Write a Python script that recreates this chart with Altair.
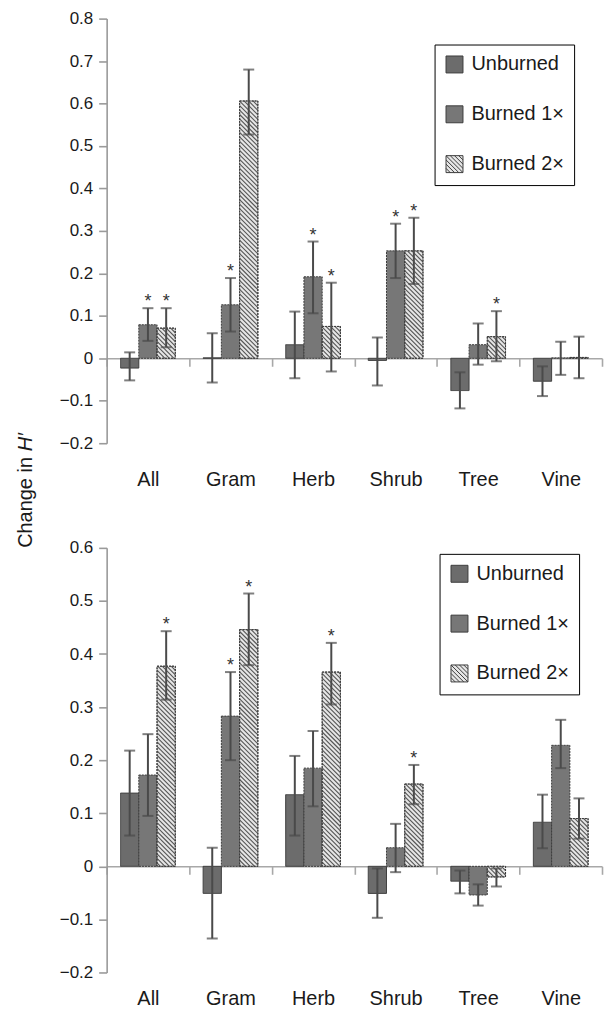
import json
import math
import altair as alt
import pandas as pd

FONT = "Liberation Sans"

categories = ["All", "Gram", "Herb", "Shrub", "Tree", "Vine"]
treatments = ["Unburned", "Burned 1×", "Burned 2×"]

# ---- top panel ----
top_unburned = [-0.023, 0.001, 0.032, -0.005, -0.076, -0.054]
top_unburned_lo = [-0.052, -0.057, -0.047, -0.064, -0.118, -0.089]
top_unburned_hi = [0.014, 0.059, 0.110, 0.049, -0.033, -0.019]
top_burned1 = [0.079, 0.126, 0.192, 0.253, 0.032, 0.001]
top_burned1_lo = [0.041, 0.063, 0.106, 0.189, -0.015, -0.039]
top_burned1_hi = [0.118, 0.189, 0.275, 0.317, 0.082, 0.039]
top_burned2 = [0.071, 0.606, 0.075, 0.253, 0.051, 0.002]
top_burned2_lo = [0.026, 0.527, -0.031, 0.175, -0.007, -0.047]
top_burned2_hi = [0.118, 0.680, 0.178, 0.331, 0.111, 0.051]
top_star_unburned = [0, 0, 0, 0, 0, 0]
top_star_burned1 = [1, 1, 1, 1, 0, 0]
top_star_burned2 = [1, 0, 1, 1, 1, 0]
top_ticks = [-0.2, -0.1, 0.0, 0.1, 0.2, 0.3, 0.4, 0.5, 0.6, 0.7, 0.8]

# ---- bottom panel ----
bot_unburned = [0.138, -0.051, 0.135, -0.051, -0.028, 0.083]
bot_unburned_lo = [0.058, -0.136, 0.058, -0.097, -0.051, 0.034]
bot_unburned_hi = [0.218, 0.035, 0.208, -0.004, -0.008, 0.135]
bot_burned1 = [0.172, 0.283, 0.185, 0.035, -0.054, 0.228]
bot_burned1_lo = [0.095, 0.200, 0.113, -0.011, -0.074, 0.185]
bot_burned1_hi = [0.249, 0.366, 0.255, 0.080, -0.034, 0.276]
bot_burned2 = [0.377, 0.446, 0.366, 0.155, -0.020, 0.090]
bot_burned2_lo = [0.314, 0.379, 0.305, 0.117, -0.038, 0.052]
bot_burned2_hi = [0.443, 0.514, 0.421, 0.191, -0.004, 0.128]
bot_star_unburned = [0, 0, 0, 0, 0, 0]
bot_star_burned1 = [0, 1, 0, 0, 0, 0]
bot_star_burned2 = [1, 1, 1, 1, 0, 0]
bot_ticks = [-0.2, -0.1, 0.0, 0.1, 0.2, 0.3, 0.4, 0.5, 0.6]

W = 497
H = 426
BW = 0.221  # bar width, in category units
FILLS = ["#6c6c6c", "#777777", "#e6e6e6"]
DASHES = [[1, 0], [2, 1], [2, 1]]
BAR_STROKE = "#3c3c3c"
ERR = "#4a4a4a"
HATCH_PATH = ("M-1,-1H1V1H-1Z M-1,0.5L-0.5,1 M-1,0L0,1 M-1,-0.5L0.5,1 "
              "M-1,-1L1,1 M-0.5,-1L1,0.5 M0,-1L1,0 M0.5,-1L1,-0.5")


def build_frame(vals, los, his, stars):
    rows = []
    for ti, t in enumerate(treatments):
        for ci, c in enumerate(categories):
            xc = ci + 0.5 + (ti - 1) * BW
            rows.append(dict(cat=c, treatment=t, ti=ti, v=vals[ti][ci],
                             lo=los[ti][ci], hi=his[ti][ci], star=stars[ti][ci],
                             xc=xc, xl=xc - BW / 2, xr=xc + BW / 2, base=0.0))
    return pd.DataFrame(rows)


def hatch_frame(df, ydom):
    ppx = W / len(categories)
    ppy = H / (ydom[1] - ydom[0])
    s = 4.5
    segs = []
    for r in df[df.ti == 2].itertuples():
        Xl, Xr = r.xl * ppx, r.xr * ppx
        Yt, Yb = -max(r.v, 0) * ppy, -min(r.v, 0) * ppy
        if Yb - Yt < 0.5:
            continue
        k0 = math.ceil((Yt - Xr) / s)
        k1 = math.floor((Yb - Xl) / s)
        for k in range(k0, k1 + 1):
            c = k * s
            X0 = max(Xl, Yt - c)
            X1 = min(Xr, Yb - c)
            if X1 - X0 > 0.3:
                segs.append(dict(hx1=X0 / ppx, hx2=X1 / ppx,
                                 hy1=-(X0 + c) / ppy, hy2=-(X1 + c) / ppy))
    return pd.DataFrame(segs)


def panel(df, ydom, yticks, label_pad, legend_x, legend_y, with_title=False):
    xs = alt.Scale(domain=[0, len(categories)], nice=False, zero=False)
    ys = alt.Scale(domain=ydom, nice=False, zero=False)
    fill_s = alt.Scale(domain=treatments, range=FILLS)
    stroke_s = alt.Scale(domain=treatments, range=[BAR_STROKE] * 3)
    shape_s = alt.Scale(domain=treatments, range=["square", "square", HATCH_PATH])
    zero_off = -H * (0 - ydom[0]) / (ydom[1] - ydom[0])

    label_axis = alt.Axis(
        orient="bottom",
        values=[i + 0.5 for i in range(len(categories))],
        labelExpr=json.dumps(categories) + "[floor(datum.value)]",
        domain=False, ticks=False, tickSize=0, grid=False, title=None,
        labelPadding=label_pad, labelFont=FONT, labelFontSize=20,
        labelColor="#1a1a1a", labelBaseline="top")
    zero_axis = alt.Axis(
        orient="bottom",
        values=list(range(len(categories) + 1)), labels=False, grid=False,
        title=None, domain=True, ticks=True, tickSize=8, offset=zero_off,
        domainColor="#a8a8a8", tickColor="#a8a8a8", domainWidth=1.6,
        tickWidth=1.6)
    y_axis = alt.Axis(
        orient="left",
        values=yticks, grid=False, title=None,
        labelExpr="abs(datum.value) < 1e-9 ? '0' : format(datum.value, '.1f')",
        domainColor="#9a9a9a", domainWidth=1.6, tickColor="#9a9a9a",
        tickWidth=1.6, tickSize=8, labelPadding=6, labelFont=FONT,
        labelFontSize=17, labelColor="#1a1a1a")

    def Y(field):
        return alt.Y(field, scale=ys, axis=y_axis)

    base = alt.Chart(df)
    bar_layers = []
    for ti in range(len(treatments)):
        bar_layers.append(
            base.transform_filter(alt.datum.ti == ti).mark_rect(
                fill=FILLS[ti], stroke=BAR_STROKE, strokeWidth=1,
                strokeDash=DASHES[ti]).encode(
                x=alt.X("xl:Q", scale=xs,
                        axis=label_axis if ti == 0 else None),
                x2="xr", y=Y("v:Q"), y2="base"))
    hatch = alt.Chart(hatch_frame(df, ydom)).mark_rule(
        color="#555555", strokeWidth=1.1).encode(
        x=alt.X("hx1:Q", scale=xs, axis=None), x2="hx2",
        y=Y("hy1:Q"), y2="hy2")
    outline = base.transform_filter(alt.datum.ti == 2).mark_rect(
        stroke=BAR_STROKE, strokeWidth=1, fillOpacity=0,
        strokeDash=DASHES[2]).encode(
        x=alt.X("xl:Q", scale=xs, axis=None), x2="xr",
        y=Y("v:Q"), y2="base")
    whisk = base.mark_rule(color=ERR, strokeWidth=2).encode(
        x=alt.X("xc:Q", scale=xs, axis=zero_axis),
        y=Y("lo:Q"), y2="hi")
    caps_df = df.melt(id_vars=["xc"], value_vars=["lo", "hi"], value_name="ev")
    caps = alt.Chart(caps_df).mark_tick(
        orient="horizontal", size=11, thickness=2, color=ERR).encode(
        x=alt.X("xc:Q", scale=xs, axis=None),
        y=Y("ev:Q"))
    stars = alt.Chart(df[df.star == 1]).mark_text(
        text="*", font=FONT, fontSize=18, baseline="alphabetic", dy=-1,
        color="#333333").encode(
        x=alt.X("xc:Q", scale=xs, axis=None),
        y=Y("hi:Q"))
    leg = alt.Legend(
        title=None, orient="none", legendX=legend_x, legendY=legend_y,
        symbolSize=289, symbolStrokeWidth=1, symbolOpacity=1,
        labelFont=FONT, labelFontSize=20,
        labelColor="#1a1a1a", labelOffset=7, rowPadding=28, padding=10,
        strokeColor="#000000", fillColor="#ffffff",
        labelExpr="datum.label + '    '")
    pts = base.mark_point(filled=True, opacity=0, strokeWidth=1).encode(
        x=alt.X("xc:Q", scale=xs, axis=None),
        y=Y("v:Q"),
        fill=alt.Fill("treatment:N", scale=fill_s, legend=leg),
        stroke=alt.Stroke("treatment:N", scale=stroke_s, legend=leg),
        shape=alt.Shape("treatment:N", scale=shape_s, legend=leg),
    )
    layers = bar_layers + [hatch, outline, whisk, caps, stars, pts]
    if with_title:
        t1 = alt.Chart(pd.DataFrame({"t": ["Change in "]})).mark_text(
            angle=270, align="left", baseline="middle", font=FONT,
            fontSize=20, color="#1a1a1a").encode(
            text="t:N", x=alt.value(-81), y=alt.value(531))
        t2 = alt.Chart(pd.DataFrame({"t": ["H′"]})).mark_text(
            angle=270, align="left", baseline="middle", font=FONT,
            fontSize=20, fontStyle="italic", color="#1a1a1a").encode(
            text="t:N", x=alt.value(-81), y=alt.value(531 - 97))
        layers += [t1, t2]
    return alt.layer(*layers).resolve_axis(x="independent").properties(
        width=W, height=H)


top_df = build_frame([top_unburned, top_burned1, top_burned2],
                     [top_unburned_lo, top_burned1_lo, top_burned2_lo],
                     [top_unburned_hi, top_burned1_hi, top_burned2_hi],
                     [top_star_unburned, top_star_burned1, top_star_burned2])
bot_df = build_frame([bot_unburned, bot_burned1, bot_burned2],
                     [bot_unburned_lo, bot_burned1_lo, bot_burned2_lo],
                     [bot_unburned_hi, bot_burned1_hi, bot_burned2_hi],
                     [bot_star_unburned, bot_star_burned1, bot_star_burned2])

top = panel(top_df, [-0.2, 0.8], top_ticks, 26, 329, 26, with_title=True)
bottom = panel(bot_df, [-0.2, 0.6], bot_ticks, 16.5, 334, 6)

chart = alt.vconcat(top, bottom, spacing=105, bounds="flush").resolve_scale(
    fill="independent", stroke="independent", shape="independent").properties(
    padding={"left": 16, "top": 8, "right": 3, "bottom": 5},
    background="white").configure_view(stroke=None).configure_legend(
    strokeWidth=1)

chart.save("out.html", embed_options={"renderer": "svg", "actions": False})
